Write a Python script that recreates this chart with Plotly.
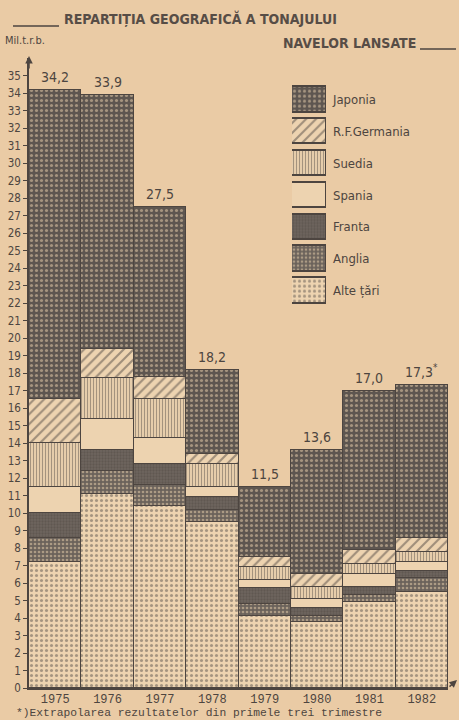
import plotly.graph_objects as go

years = ["1975", "1976", "1977", "1978", "1979", "1980", "1981", "1982"]
totals = [34.2, 33.9, 27.5, 18.2, 11.5, 13.6, 17.0, 17.3]
total_labels = ["34,2", "33,9", "27,5", "18,2", "11,5", "13,6", "17,0", "17,3<sup>*</sup>"]

alte_tari = [7.2, 11.1, 10.4, 9.5, 4.1, 3.8, 4.9, 5.5]
anglia = [1.4, 1.3, 1.2, 0.7, 0.7, 0.3, 0.4, 0.8]
franta = [1.4, 1.2, 1.2, 0.7, 0.9, 0.5, 0.5, 0.4]
spania = [1.5, 1.8, 1.5, 0.6, 0.5, 0.5, 0.7, 0.5]
suedia = [2.5, 2.3, 2.2, 1.3, 0.7, 0.7, 0.6, 0.6]
rf_germania = [2.5, 1.7, 1.3, 0.6, 0.6, 0.7, 0.8, 0.8]
japonia = [17.7, 14.5, 9.7, 4.8, 4.0, 7.1, 9.1, 8.7]

y_ticks = list(range(0, 36))

PAPER = "#EACBA5"
INK = "#4d4540"
LIGHT = "#EDD3B0"
FONT = "DejaVu Sans Condensed, DejaVu Sans"

series = [
    ("Alte țări", alte_tari, dict(shape=".", bgcolor=LIGHT, fgcolor="#5e554e", size=5, solidity=0.3)),
    ("Anglia", anglia, dict(shape=".", bgcolor="#6b625b", fgcolor=LIGHT, size=4, solidity=0.35)),
    ("Franta", franta, dict(shape=".", bgcolor="#6e655e", fgcolor="#514944", size=3, solidity=0.45)),
    ("Spania", spania, dict(shape="", bgcolor=LIGHT, fgcolor=LIGHT)),
    ("Suedia", suedia, dict(shape="|", bgcolor=LIGHT, fgcolor="#5c534c", size=3, solidity=0.4)),
    ("R.F.Germania", rf_germania, dict(shape="/", bgcolor=LIGHT, fgcolor="#514943", size=7, solidity=0.3)),
    ("Japonia", japonia, dict(shape=".", bgcolor="#5e5650", fgcolor=LIGHT, size=5, solidity=0.3)),
]

fig = go.Figure()
for name, vals, pat in series:
    fig.add_trace(go.Bar(
        x=years, y=vals, name=name, width=1,
        marker=dict(color=pat["bgcolor"], pattern=pat, line=dict(color=INK, width=1.5)),
        hoverinfo="skip", showlegend=False,
    ))

# total labels above the bars
for i, (tot, lbl) in enumerate(zip(totals, total_labels)):
    fig.add_annotation(
        x=i, y=tot, xref="x", yref="y", text=lbl, showarrow=False,
        yanchor="bottom", yshift=3,
        font=dict(family=FONT, size=14, color=INK),
    )

# legend swatches on a separate small axis
legend_order = [s[0] for s in series][::-1]
for name, vals, pat in series:
    fig.add_trace(go.Bar(
        x=[1], y=[name], orientation="h", width=0.8, xaxis="x2", yaxis="y2",
        marker=dict(color=pat["bgcolor"], pattern=pat, line=dict(color=INK, width=1.5)),
        hoverinfo="skip", showlegend=False,
    ))

W, H = 459, 720
L, R, T, B = 29, 11, 58, 32
pw, ph = W - L - R, H - T - B

def px(x):
    return (x - L) / pw

def py(y):
    return (H - B - y) / ph

fig.update_layout(
    width=W, height=H,
    margin=dict(l=L, r=R, t=T, b=B, autoexpand=False),
    paper_bgcolor=PAPER, plot_bgcolor=PAPER,
    barmode="stack", bargap=0,
    showlegend=False,
    font=dict(family=FONT, color=INK),
    xaxis=dict(
        type="category",
        range=[-0.5, 7.5], showgrid=False, zeroline=False, automargin=False,
        showline=True, linecolor=INK, linewidth=1.5,
        tickfont=dict(family="Liberation Mono", size=12, color=INK),
        ticks="", fixedrange=True, ticklabelstandoff=-1,
    ),
    yaxis=dict(
        range=[0, 36], showgrid=False, zeroline=False, automargin=False,
        showline=True, linecolor=INK, linewidth=1.5,
        tickmode="array", tickvals=y_ticks, ticktext=[str(v) for v in y_ticks],
        ticks="outside", ticklen=4, tickcolor=INK, tickwidth=1,
        tickfont=dict(family=FONT, size=11.5, color=INK),
        fixedrange=True, ticklabelstandoff=0,
    ),
    xaxis2=dict(
        domain=[px(292), px(326)], range=[0, 1], anchor="y2", automargin=False,
        showgrid=False, zeroline=False, showticklabels=False, showline=False,
        fixedrange=True,
    ),
    yaxis2=dict(
        domain=[py(306.4), py(83.6)], anchor="x2", side="right", automargin=False,
        categoryorder="array", categoryarray=legend_order[::-1],
        showgrid=False, zeroline=False, showline=False, ticks="",
        ticklabelstandoff=6, fixedrange=True,
        tickfont=dict(family=FONT, size=13, color=INK),
    ),
)

fig.add_annotation(
    x=px(62), y=py(19), xref="paper", yref="paper", xanchor="left", yanchor="middle",
    text="<b>REPARTIȚIA GEOGRAFICĂ A TONAJULUI</b>", showarrow=False,
    font=dict(family=FONT, size=14, color="#574d46"),
)
fig.add_annotation(
    x=px(418), y=py(43), xref="paper", yref="paper", xanchor="right", yanchor="middle",
    text="<b>NAVELOR LANSATE</b>", showarrow=False,
    font=dict(family=FONT, size=14, color="#574d46"),
)
fig.add_annotation(
    x=px(3), y=py(40), xref="paper", yref="paper", xanchor="left", yanchor="middle",
    text="Mil.t.r.b.", showarrow=False,
    font=dict(family=FONT, size=11, color=INK),
)
fig.add_annotation(
    x=px(14), y=py(713), xref="paper", yref="paper", xanchor="left", yanchor="middle",
    text="*)Extrapolarea rezultatelor din primele trei trimestre", showarrow=False,
    font=dict(family="Liberation Mono", size=11.3, color=INK),
)
# axis arrows
fig.add_annotation(
    x=0, y=py(56), xref="paper", yref="paper", showarrow=True,
    ax=0, ay=14, axref="pixel", ayref="pixel",
    arrowhead=2, arrowsize=1, arrowwidth=1.5, arrowcolor=INK, text="",
)
fig.add_annotation(
    x=px(457), y=py(680), xref="paper", yref="paper", showarrow=True,
    ax=-9, ay=8, arrowhead=2, arrowsize=1, arrowwidth=1.5, arrowcolor=INK, text="",
)

fig.add_shape(type="line", xref="paper", yref="paper",
              x0=px(13), x1=px(59), y0=py(26), y1=py(26), line=dict(color=INK, width=1.5))
fig.add_shape(type="line", xref="paper", yref="paper",
              x0=px(420), x1=px(456), y0=py(49), y1=py(49), line=dict(color=INK, width=1.5))

fig.write_html(
    "out.html",
    config={"displayModeBar": False},
    post_script="document.body.style.margin='0';document.body.style.background='" + PAPER + "';",
)
